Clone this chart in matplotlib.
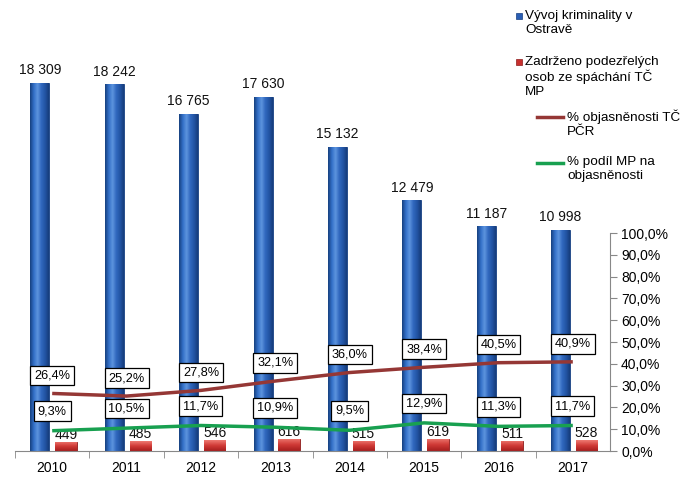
import numpy as np
import matplotlib
matplotlib.use("Agg")
import matplotlib.pyplot as plt
from matplotlib.lines import Line2D
from matplotlib.patches import Rectangle
from matplotlib.ticker import FuncFormatter, FixedLocator

plt.rcParams['font.family'] = ['Liberation Sans', 'DejaVu Sans']

years = ['2010', '2011', '2012', '2013', '2014', '2015', '2016', '2017']
crime = [18309, 18242, 16765, 17630, 15132, 12479, 11187, 10998]
detained = [449, 485, 546, 616, 515, 619, 511, 528]
clear_pcr = [26.4, 25.2, 27.8, 32.1, 36.0, 38.4, 40.5, 40.9]
share_mp = [9.3, 10.5, 11.7, 10.9, 9.5, 12.9, 11.3, 11.7]

legend_labels = ['Vývoj kriminality v\nOstravě',
                 'Zadrženo podezřelých\nosob ze spáchání TČ\nMP',
                 '% objasněnosti TČ\nPČR',
                 '% podíl MP na\nobjasněnosti']

W, H = 688, 490
fig = plt.figure(figsize=(W / 100, H / 100), dpi=100)
ax_l, ax_r, ax_b, ax_t = 15, 610, 451, 40
ax = fig.add_axes([ax_l / W, (H - ax_b) / H, (ax_r - ax_l) / W, (ax_b - ax_t) / H])

x = np.arange(len(years))
pmax = 18309 * (ax_b - ax_t) / 368.0
smax = 100.0 * (ax_b - ax_t) / 218.0

blue_c = '#2A5EB4'
red_c = '#C8302E'


def grad_bars(bars, cmap_cols, vertical=False):
    from matplotlib.colors import LinearSegmentedColormap
    cmap = LinearSegmentedColormap.from_list('g', cmap_cols)
    for b in bars:
        x0, y0 = b.get_x(), b.get_y()
        w, h = b.get_width(), b.get_height()
        if vertical:
            g = np.linspace(0, 1, 64).reshape(-1, 1)
        else:
            g = np.linspace(0, 1, 64).reshape(1, -1)
        im = ax.imshow(g, cmap=cmap, extent=[x0, x0 + w, y0, y0 + h],
                       aspect='auto', origin='lower', zorder=2,
                       interpolation='bilinear')
        im.set_clip_path(b)


b1 = ax.bar(x - 0.165, crime, width=0.255, color=blue_c, edgecolor='#173F80',
            linewidth=0.6, zorder=2)
grad_bars(b1, ['#17407F', '#3370C8', '#5D94DE', '#3068BE', '#2355A5', '#163D7C'])
b2 = ax.bar(x + 0.185, detained, width=0.29, color=red_c, edgecolor='#8E1C1C',
            linewidth=0.6, zorder=2)
grad_bars(b2, ['#A51E1E', '#D03A36', '#EE7A72'], vertical=True)

for xi, v in zip(x - 0.165, crime):
    ax.annotate(f'{v:,}'.replace(',', ' '), (xi, v), xytext=(0, 4),
                textcoords='offset points', ha='center', va='bottom',
                fontsize=10, color='#111111', zorder=5)
for xi, v in zip(x + 0.185, detained):
    ax.annotate(f'{v}', (xi, v), xytext=(0, 0),
                textcoords='offset points', ha='center', va='bottom',
                fontsize=10, color='#111111', zorder=5)

ax.set_xlim(-0.5, len(years) - 0.5)
ax.set_ylim(0, pmax)
ax.set_yticks([])
for s in ['top', 'left', 'right']:
    ax.spines[s].set_visible(False)
ax.spines['bottom'].set_color('#888888')
ax.set_xticks(x)
ax.set_xticklabels(years, fontsize=10)
ax.tick_params(axis='x', which='major', length=0, pad=7)
ax.xaxis.set_minor_locator(FixedLocator(np.arange(-0.5, len(years) - 0.5, 1)))
ax.tick_params(axis='x', which='minor', length=5, color='#888888', direction='out')

ax2 = ax.twinx()
ax2.set_ylim(0, smax)
ax2.set_yticks(np.arange(0, 101, 10))
ax2.yaxis.set_major_formatter(FuncFormatter(lambda v, p: f'{v:.1f}%'.replace('.', ',')))
ax2.tick_params(axis='y', length=5, color='#888888', labelsize=10, pad=3)
for s in ['top', 'left', 'bottom']:
    ax2.spines[s].set_visible(False)
ax2.spines['right'].set_bounds(0, 100)
ax2.spines['right'].set_color('#888888')

ax2.plot(x, clear_pcr, color='#953735', lw=2.5, zorder=3, solid_capstyle='butt')
ax2.plot(x, share_mp, color='#18A050', lw=2.5, zorder=3, solid_capstyle='butt')

bbox = dict(boxstyle='square,pad=0.3', fc='white', ec='black', lw=0.9)
for xi, v in zip(x, clear_pcr):
    ax2.annotate(f'{v:.1f}%'.replace('.', ','), (xi, v), xytext=(0, 13),
                 textcoords='offset points', ha='center', va='center',
                 fontsize=9.2, bbox=bbox, zorder=6)
for xi, v in zip(x, share_mp):
    ax2.annotate(f'{v:.1f}%'.replace('.', ','), (xi, v), xytext=(0, 14),
                 textcoords='offset points', ha='center', va='center',
                 fontsize=9.2, bbox=bbox, zorder=6)

# legend (manual)
def fx(px):
    return px / W


def fy(py):
    return 1 - py / H


lfs = 9.7
fig.add_artist(Rectangle((fx(516), fy(19)), 6 / W, 6 / H, transform=fig.transFigure,
                         fc=blue_c, ec='#173F80', lw=0.5))
fig.text(fx(525), fy(10), legend_labels[0], fontsize=lfs, va='top', ha='left',
         linespacing=1.2)
fig.add_artist(Rectangle((fx(516), fy(65)), 6 / W, 6 / H, transform=fig.transFigure,
                         fc=red_c, ec='#8E1C1C', lw=0.5))
fig.text(fx(525), fy(56), legend_labels[1], fontsize=lfs, va='top', ha='left',
         linespacing=1.15)
fig.add_artist(Line2D([fx(537), fx(563)], [fy(117), fy(117)], transform=fig.transFigure,
                      color='#953735', lw=2.5))
fig.text(fx(567), fy(110), legend_labels[2], fontsize=lfs, va='top', ha='left',
         linespacing=1.2)
fig.add_artist(Line2D([fx(537), fx(563)], [fy(163), fy(163)], transform=fig.transFigure,
                      color='#18A050', lw=2.5))
fig.text(fx(567), fy(156), legend_labels[3], fontsize=lfs, va='top', ha='left',
         linespacing=1.2)

fig.savefig('out.png', dpi=100)
